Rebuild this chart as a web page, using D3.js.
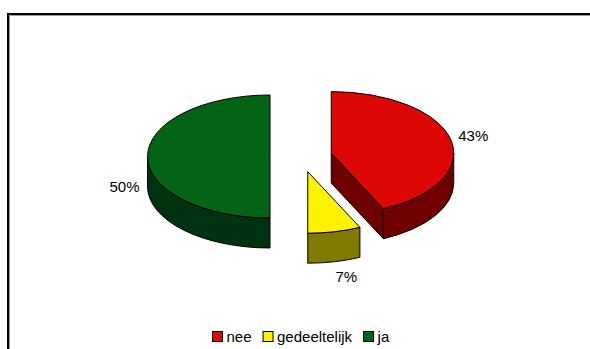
<!DOCTYPE html>
<html>
<head>
<meta charset="utf-8">
<script src="https://cdn.jsdelivr.net/npm/d3@7"></script>
<style>
  html, body { margin: 0; padding: 0; background: #fff; overflow: hidden; }
  svg { display: block; font-family: "Liberation Sans", Arial, sans-serif; }
</style>
</head>
<body>
<svg id="chart" width="590" height="349"></svg>
<script>
// ---- data ----
const categories = ["nee", "gedeeltelijk", "ja"];
const values = [43, 7, 50];
const valueLabels = ["43%", "7%", "50%"];
const topColors = ["#DD0806", "#FFF200", "#026414"];
const sideColors = ["#700000", "#807A00", "#003210"];

// ---- layout ----
const svg = d3.select("#chart");

// frame (only top and left edges visible)
svg.append("line").attr("x1", 9.5).attr("y1", 15.5).attr("x2", 590).attr("y2", 15.5)
  .attr("stroke", "#999").attr("stroke-width", 1);
svg.append("line").attr("x1", 9.5).attr("y1", 15.5).attr("x2", 9.5).attr("y2", 349)
  .attr("stroke", "#999").attr("stroke-width", 1);
svg.append("line").attr("x1", 7).attr("y1", 14).attr("x2", 590).attr("y2", 14)
  .attr("stroke", "#000").attr("stroke-width", 2);
svg.append("line").attr("x1", 8).attr("y1", 13).attr("x2", 8).attr("y2", 349)
  .attr("stroke", "#000").attr("stroke-width", 2);

const cx = 301, cy = 156.5, rx = 122.5, ry = 61.5, depth = 30;
const explode = 0.253; // fraction of radius

const pie = d3.pie().sort(null).value(d => d)
  .startAngle(0).endAngle(2 * Math.PI);
const arcs = pie(values);

function pt(c, a, r = 1) {
  return [c[0] + rx * r * Math.sin(a), c[1] - ry * r * Math.cos(a)];
}

const g = svg.append("g");
const drawOrder = [2, 0, 1];
const front0 = Math.PI / 2, front1 = 3 * Math.PI / 2;
const strokeAttrs = { "stroke": "#000", "stroke-width": 1, "stroke-linejoin": "round" };
function styled(sel) { Object.entries(strokeAttrs).forEach(([k, v]) => sel.attr(k, v)); return sel; }

drawOrder.forEach(i => {
  const a = arcs[i];
  const mid = (a.startAngle + a.endAngle) / 2;
  const c = [cx + explode * rx * Math.sin(mid), cy - explode * ry * Math.cos(mid)];
  const s = pt(c, a.startAngle), e = pt(c, a.endAngle);
  const sg = g.append("g");

  // cut faces (visible when outward normal faces the viewer)
  [[a.startAngle, a.startAngle - Math.PI / 2], [a.endAngle, a.endAngle + Math.PI / 2]].forEach(([ang, nrm]) => {
    if (Math.cos(nrm) < -0.01) {
      const p = pt(c, ang);
      const path = d3.path();
      path.moveTo(c[0], c[1]);
      path.lineTo(p[0], p[1]);
      path.lineTo(p[0], p[1] + depth);
      path.lineTo(c[0], c[1] + depth);
      path.closePath();
      styled(sg.append("path").attr("d", path.toString()).attr("fill", sideColors[i]));
    }
  });

  // outer side face (front half)
  const f0 = Math.max(a.startAngle, front0), f1 = Math.min(a.endAngle, front1);
  if (f1 > f0) {
    const p0 = pt(c, f0), p1 = pt(c, f1);
    const d = `M${p0[0]},${p0[1]} A${rx},${ry} 0 0 1 ${p1[0]},${p1[1]} L${p1[0]},${p1[1] + depth} A${rx},${ry} 0 0 0 ${p0[0]},${p0[1] + depth} Z`;
    styled(sg.append("path").attr("d", d).attr("fill", sideColors[i]));
  }

  // top face
  const large = (a.endAngle - a.startAngle) > Math.PI ? 1 : 0;
  const dTop = `M${c[0]},${c[1]} L${s[0]},${s[1]} A${rx},${ry} 0 ${large} 1 ${e[0]},${e[1]} Z`;
  styled(sg.append("path").attr("d", dTop).attr("fill", topColors[i]));

  // label
  const lp = pt(c, mid, 1);
  const front = -Math.cos(mid);          // 1 at the front, -1 at the back
  const lx = lp[0] + 23 * Math.sin(mid) + 7 * Math.max(front, 0);
  const ly = lp[1] + (front > -0.01 ? depth : 0) + 15 * Math.max(front, 0) - 16 * Math.max(-front, 0);
  g.append("text").attr("x", lx).attr("y", ly).attr("dy", "0.35em")
    .attr("text-anchor", "middle").attr("font-size", 15).attr("fill", "#000")
    .text(valueLabels[i]);
});

// ---- legend ----
const legend = svg.append("g");
let x = 212;
categories.forEach((cat, i) => {
  legend.append("rect").attr("x", x + 0.5).attr("y", 331.5).attr("width", 10).attr("height", 10)
    .attr("fill", topColors[i]).attr("stroke", "#000").attr("stroke-width", 1);
  const t = legend.append("text").attr("x", x + 14.5).attr("y", 342).attr("font-size", 15)
    .attr("fill", "#000").text(cat);
  const w = t.node().getComputedTextLength();
  x = x + 14.5 + w + 11;
});
</script>
</body>
</html>
